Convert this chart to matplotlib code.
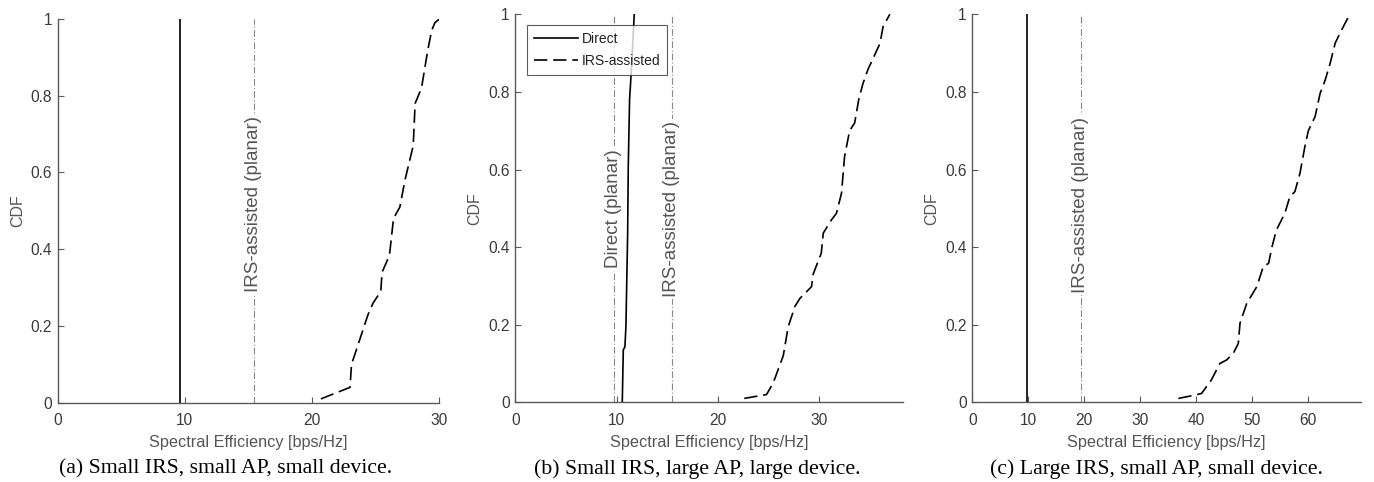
import matplotlib
matplotlib.use("Agg")
import matplotlib.pyplot as plt
import numpy as np

plt.rcParams['font.family'] = ['Liberation Sans', 'DejaVu Sans']

# Panel (a)
a_direct_x = [9.65, 9.65]
a_direct_y = [0.0, 1.0]
a_irs_x = [20.7, 22.98, 23.1, 23.6, 24.4, 24.8, 25.4, 25.5, 25.9, 26.1, 26.4, 26.9, 27.3, 27.95, 28.1, 28.6, 29.1, 29.4, 29.65, 30.0]
a_irs_y = [0.01, 0.04, 0.10, 0.15, 0.23, 0.26, 0.29, 0.34, 0.37, 0.39, 0.48, 0.51, 0.58, 0.67, 0.78, 0.82, 0.92, 0.97, 0.99, 1.0]
a_vlines = [15.4]
a_vlabels = ['IRS-assisted (planar)']

# Panel (b)
b_direct_x = [10.56, 10.66, 10.82, 10.92, 11.09, 11.15, 11.28, 11.48, 11.74]
b_direct_y = [0.0, 0.135, 0.143, 0.195, 0.435, 0.607, 0.78, 0.865, 1.0]
b_irs_x = [22.6, 24.8, 25.46, 26.45, 26.94, 27.6, 28.1, 29.24, 29.4, 30.2, 30.4, 31.2, 31.7, 32.2, 32.5, 33.0, 33.5, 33.9, 34.3, 34.8, 35.56, 36.0, 36.3, 36.97]
b_irs_y = [0.01, 0.02, 0.05, 0.12, 0.195, 0.247, 0.268, 0.298, 0.33, 0.384, 0.436, 0.47, 0.487, 0.539, 0.633, 0.70, 0.72, 0.78, 0.82, 0.857, 0.9, 0.925, 0.968, 1.0]
b_vlines = [9.74, 15.43]
b_vlabels = ['Direct (planar)', 'IRS-assisted (planar)']

# Panel (c)
c_direct_x = [9.7, 9.7]
c_direct_y = [0.0, 1.0]
c_irs_x = [36.8, 39.9, 40.95, 42.7, 44.2, 45.4, 46.6, 47.5, 47.8, 49.0, 50.8, 51.96, 52.9, 53.5, 54.3, 55.8, 56.7, 57.6, 58.5, 59.4, 60.0, 61.2, 62.1, 63.0, 63.9, 64.8, 65.95, 67.4]
c_irs_y = [0.01, 0.019, 0.023, 0.058, 0.10, 0.109, 0.126, 0.152, 0.204, 0.255, 0.298, 0.35, 0.358, 0.40, 0.444, 0.487, 0.53, 0.543, 0.59, 0.66, 0.70, 0.736, 0.796, 0.83, 0.874, 0.926, 0.96, 1.0]
c_vlines = [19.4]
c_vlabels = ['IRS-assisted (planar)']

captions = ['(a) Small IRS, small AP, small device.',
            '(b) Small IRS, large AP, large device.',
            '(c) Large IRS, small AP, small device.']

fig = plt.figure(figsize=(13.74, 4.82), dpi=100)
W, H = 1374, 482
boxes = [(57.7, 439.3, 19.0, 402.7, 30, [0, 10, 20, 30]),
         (515.3, 903.3, 14.3, 402.3, 38.3, [0, 10, 20, 30]),
         (972.3, 1360.7, 14.3, 402.3, 69.35, [0, 10, 20, 30, 40, 50, 60])]
panels = [(a_direct_x, a_direct_y, a_irs_x, a_irs_y, a_vlines, a_vlabels),
          (b_direct_x, b_direct_y, b_irs_x, b_irs_y, b_vlines, b_vlabels),
          (c_direct_x, c_direct_y, c_irs_x, c_irs_y, c_vlines, c_vlabels)]
label_y = [0.518, 0.498, 0.508]
caption_cx = [225.6, 697.0, 1156.0]

axcol = '#5a5a5a'
txtcol = '#3a3a3a'
for i, ((l, r, t, b, xmax, xt), (dx, dy, ix, iy, vl, vlab)) in enumerate(zip(boxes, panels)):
    ax = fig.add_axes([l / W, 1 - b / H, (r - l) / W, (b - t) / H])
    for v, lab in zip(vl, vlab):
        ax.axvline(v, color='#8a8a8a', lw=0.8, ls='-.', dashes=(6, 2, 1, 2), zorder=1)
        ax.text(v, label_y[i], lab, rotation=90, ha='center', va='center', fontsize=13.5,
                color='#555555', zorder=2,
                bbox=dict(facecolor='white', edgecolor='none', pad=1.5))
    h1, = ax.plot(dx, dy, color='black', lw=1.2, zorder=3, label='Direct')
    h2, = ax.plot(ix, iy, color='black', lw=1.2, dashes=(8, 3.5), zorder=3, label='IRS-assisted')
    ax.set_xlim(0, xmax)
    ax.set_ylim(0, 1)
    ax.set_xticks(xt)
    ax.set_yticks([0, 0.2, 0.4, 0.6, 0.8, 1])
    ax.set_yticklabels(['0', '0.2', '0.4', '0.6', '0.8', '1'])
    for s in ['top', 'right']:
        ax.spines[s].set_visible(False)
    for s in ['left', 'bottom']:
        ax.spines[s].set_color(axcol)
        ax.spines[s].set_linewidth(1.0)
    ax.tick_params(direction='in', length=4, width=0.8, colors=axcol, labelcolor=txtcol,
                   labelsize=11.2)
    ax.tick_params(axis='x', pad=7.5)
    ax.tick_params(axis='y', pad=4)
    ax.set_xlabel('Spectral Efficiency [bps/Hz]', fontsize=11.7, color='#555555', labelpad=5)
    ax.set_ylabel('CDF', fontsize=11.5, color='#555555', labelpad=4)
    if i == 1:
        leg = ax.legend(handles=[h1, h2], loc='upper left', bbox_to_anchor=(0.03, 0.9725),
                        fontsize=10, frameon=True, fancybox=False, edgecolor='#333333',
                        handlelength=3.2, borderpad=0.5, labelspacing=0.6, handletextpad=0.25,
                        borderaxespad=0)
        leg.get_frame().set_linewidth(0.8)
        for txt in leg.get_texts():
            txt.set_color('#222222')
    fig.text(caption_cx[i] / W, 1 - 469 / H, captions[i], ha='center', va='center', fontsize=15.7,
             family=['Liberation Serif', 'DejaVu Serif'], color='black')

fig.savefig('out.png', dpi=100)
